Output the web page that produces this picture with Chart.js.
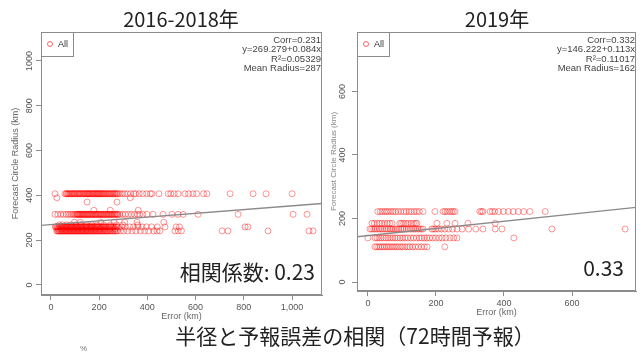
<!DOCTYPE html>
<html>
<head>
<meta charset="utf-8">
<script src="https://cdn.jsdelivr.net/npm/chart.js@4.4.1/dist/chart.umd.min.js"></script>
<style>
  body { margin: 0; width: 643px; height: 356px; overflow: hidden; position: relative; background: #fff;
         font-family: "Noto Sans CJK JP", sans-serif; }
  canvas { position: absolute; top: 0; }
  #c2016 { left: 0; }
  #c2019 { left: 320px; }
  .ttl { position: absolute; top: 6px; font-size: 20px; line-height: 26px; color: #222;
         transform: translateX(-50%); white-space: nowrap; }
  .cap { position: absolute; top: 322px; left: 355px; font-size: 21px; line-height: 26px; color: #222;
         transform: translateX(-50%); white-space: nowrap; }
  .stray { position: absolute; left: 80px; top: 344px; font: 8px "Liberation Sans"; color: #777; }
</style>
</head>
<body>
<canvas id="c2016" width="330" height="356"></canvas>
<canvas id="c2019" width="323" height="356"></canvas>
<div class="ttl" style="left:181px">2016-2018年</div>
<div class="ttl" style="left:497px">2019年</div>
<div class="cap">半径と予報誤差の相関（72時間予報）</div>
<div class="stray">%</div>
<script>
// ---- 2016-2018 panel (one x list per forecast-radius row) ----
const radius2016 = [407, 407, 389, 370, 333, 315, 315, 280, 268, 259, 259, 250, 241, 241];
const err2016_407 = [17, 58, 63, 70, 76, 84, 90, 97, 104, 109, 116, 122, 129, 137, 143, 150, 156, 161, 168, 175, 181, 188, 193, 199, 205, 212, 219, 226, 233, 241, 248, 256, 263, 271, 279, 288, 297, 306, 318, 331, 344, 352, 366, 381, 397, 412, 419, 448, 486, 497, 511, 527, 556, 571, 589, 604, 633, 647, 743, 838, 892, 1000];
const err2016_407b = [66, 73, 80, 87, 94, 100, 112, 119, 126, 133, 140, 147, 153, 159, 165, 172, 178, 185, 191, 196, 202, 209, 216, 222, 229, 237, 244, 252, 260, 267, 275];
const err2016_389 = [25, 329];
const err2016_370 = [150, 274];
const err2016_333 = [178, 246, 362];
const err2016_315 = [17, 29, 41, 52, 63, 71, 79, 86, 93, 98, 104, 110, 115, 121, 127, 133, 139, 146, 151, 157, 163, 170, 176, 183, 189, 196, 202, 208, 215, 221, 228, 234, 241, 248, 254, 262, 269, 277, 286, 297, 308, 321, 333, 347, 358, 368, 382, 398, 423, 465, 502, 527, 548, 610, 776, 1004, 1062];
const err2016_315b = [108, 113, 118, 124, 130, 136, 142, 148, 154, 160, 167, 173, 180, 186, 192, 199, 205, 211, 218, 224, 231, 238, 244, 251, 258, 265, 272, 277];
const err2016_280 = [98, 122, 207, 262, 306, 357, 468];
const err2016_268 = [35, 48, 66, 84, 103, 125, 147, 170, 192, 219, 247, 272, 298, 360];
const err2016_259 = [18, 27, 34, 40, 46, 52, 57, 63, 68, 74, 79, 85, 90, 96, 101, 107, 112, 118, 124, 129, 135, 141, 146, 152, 158, 163, 169, 175, 181, 187, 193, 199, 206, 213, 220, 227, 235, 243, 251, 260, 270, 281, 294, 309, 327, 342, 361, 378, 396, 417, 441, 473, 519, 533, 805, 817];
const err2016_259b = [21, 24, 30, 37, 43, 49, 54, 60, 65, 71, 76, 82, 87, 93, 99, 104, 110, 115, 121, 126, 132, 138, 144, 149, 155, 161, 166, 172, 178, 184, 190, 196, 203, 210, 217, 224, 231, 239, 247, 256, 265, 275];
const err2016_250 = [30, 45, 62, 78, 95, 112, 130, 148, 166, 184, 203, 222, 244, 266];
const err2016_241 = [24, 31, 37, 43, 49, 55, 60, 66, 71, 77, 82, 88, 93, 99, 104, 110, 115, 121, 127, 132, 138, 144, 149, 155, 161, 167, 173, 179, 185, 191, 198, 204, 211, 218, 225, 232, 240, 249, 258, 267, 277, 289, 302, 318, 336, 352, 371, 389, 405, 426, 440, 452, 514, 528, 541, 710, 734, 900, 1070, 1087];
const err2016_241b = [27, 34, 40, 46, 52, 58, 63, 69, 74, 80, 85, 91, 96, 102, 107, 113, 118, 124, 130, 135, 141, 147, 152, 158, 164, 170, 176, 182, 188, 195, 201, 208, 215, 222, 229, 236, 245, 254, 263, 272];
const errRows2016 = [err2016_407, err2016_407b, err2016_389, err2016_370, err2016_333, err2016_315, err2016_315b,
  err2016_280, err2016_268, err2016_259, err2016_259b, err2016_250, err2016_241, err2016_241b];
const fit2016 = [269.279, 0.084];
const stats2016 = ['Corr=0.231', 'y=269.279+0.084x', 'R²=0.05329', 'Mean Radius=287'];
const xTicks2016 = [0, 200, 400, 600, 800, 1000];
const yTicks2016 = [0, 200, 400, 600, 800, 1000];

// ---- 2019 panel ----
const radius2019 = [222, 185, 167, 139, 111];
const err2019_222 = [29, 36, 42, 49, 55, 61, 68, 74, 81, 89, 97, 106, 113, 121, 128, 136, 143, 151, 162, 197, 221, 227, 233, 240, 246, 251, 256, 329, 334, 338, 359, 366, 373, 384, 398, 413, 427, 442, 458, 476, 521];
const err2019_185 = [12, 19, 27, 34, 41, 49, 57, 64, 71, 94, 99, 105, 112, 119, 127, 134, 140, 144, 203, 232, 256, 294, 374];
const err2019_167 = [6, 11, 17, 22, 27, 33, 38, 43, 49, 54, 59, 65, 70, 75, 81, 86, 91, 97, 102, 107, 113, 118, 124, 129, 135, 140, 146, 151, 157, 162, 188, 193, 199, 207, 216, 226, 237, 249, 262, 277, 296, 317, 338, 374, 394, 541, 756];
const err2019_139 = [0, 21, 27, 33, 39, 46, 53, 59, 66, 73, 80, 87, 95, 102, 109, 117, 126, 134, 143, 151, 158, 166, 173, 181, 190, 199, 209, 218, 229, 241, 252, 262, 429];
const err2019_111 = [21, 26, 32, 37, 43, 48, 54, 59, 65, 71, 77, 83, 89, 96, 102, 109, 116, 123, 131, 139, 148, 157, 166, 174, 226];
const errRows2019 = [err2019_222, err2019_185, err2019_167, err2019_139, err2019_111];
const fit2019 = [146.222, 0.113];
const stats2019 = ['Corr=0.332', 'y=146.222+0.113x', 'R²=0.11017', 'Mean Radius=162'];
const xTicks2019 = [0, 200, 400, 600];
const yTicks2019 = [0, 200, 400, 600];

const POINT_RED = 'rgba(255, 0, 0, 0.42)';
const AXIS_GRAY = '#8c8c8c';
const SMALL_FONT = '"Liberation Sans", Arial, sans-serif';

// R-style box, rotated y labels, legend, stats and correlation text
const rDecor = {
  id: 'rDecor',
  afterDraw(chart, args, o) {
    const { ctx, chartArea: a, scales: { y } } = chart;
    ctx.save();
    ctx.strokeStyle = AXIS_GRAY;
    ctx.lineWidth = 1;
    ctx.strokeRect(Math.round(a.left) + 0.5, Math.round(a.top) + 0.5, Math.round(a.width) - 1, Math.round(a.height) - 1);

    ctx.fillStyle = '#555';
    ctx.font = '9px ' + SMALL_FONT;
    ctx.textAlign = 'center';
    ctx.textBaseline = 'middle';
    y.ticks.forEach(t => {
      ctx.save();
      ctx.translate(a.left - o.yLabelOff, y.getPixelForValue(t.value));
      ctx.rotate(-Math.PI / 2);
      ctx.fillText(String(t.value), 0, 0);
      ctx.restore();
    });

    ctx.fillStyle = '#666';
    ctx.fillText('Error (km)', (a.left + a.right) / 2, a.bottom + 22);
    ctx.save();
    ctx.translate(o.yTitleX, (a.top + a.bottom) / 2);
    ctx.rotate(-Math.PI / 2);
    ctx.font = o.yTitleSize + 'px ' + SMALL_FONT;
    ctx.fillStyle = o.yTitleColor;
    ctx.fillText('Forecast Circle Radius (km)', 0, 0);
    ctx.restore();

    // legend box
    ctx.strokeRect(Math.round(a.left) + 0.5, Math.round(a.top) + 0.5, 32, 24);
    ctx.beginPath();
    ctx.arc(a.left + 9, a.top + 12, 2.5, 0, Math.PI * 2);
    ctx.strokeStyle = 'rgba(255, 0, 0, 0.6)';
    ctx.stroke();
    ctx.fillStyle = '#333';
    ctx.textAlign = 'left';
    ctx.fillText('All', a.left + 17, a.top + 12.5);

    ctx.textAlign = 'right';
    ctx.font = '9.5px ' + SMALL_FONT;
    ctx.fillStyle = '#444';
    o.stats.forEach((s, i) => ctx.fillText(s, a.right - 1, a.top + 8 + i * 9.5));

    ctx.font = '21px "Noto Sans CJK JP", sans-serif';
    ctx.fillStyle = '#222';
    ctx.fillText(o.corr, a.right - o.corrInset, a.bottom - 23);
    ctx.restore();
  }
};

function makePanel(id, radii, rows, fit, xr, yr, xTicks, yTicks, dims, decor) {
  const pts = radii.flatMap((r, i) => rows[i].map(x => ({ x, y: r })));
  return new Chart(document.getElementById(id), {
    type: 'scatter',
    data: {
      datasets: [
        {
          data: [xr[0], xr[1]].map(x => ({ x, y: fit[0] + fit[1] * x })),
          showLine: true,
          borderColor: '#8a8a8a',
          borderWidth: 1.4,
          pointRadius: 0,
          order: 0
        },
        {
          data: pts,
          pointStyle: 'circle',
          pointRadius: 3,
          borderWidth: 1,
          borderColor: POINT_RED,
          backgroundColor: 'rgba(0,0,0,0)',
          order: 1
        }
      ]
    },
    options: {
      responsive: false,
      animation: false,
      layout: { padding: { top: dims.top, right: dims.right, left: 0, bottom: 0 } },
      plugins: { legend: { display: false }, tooltip: { enabled: false }, rDecor: decor },
      scales: {
        x: {
          type: 'linear', min: xr[0], max: xr[1],
          afterBuildTicks: s => { s.ticks = xTicks.map(v => ({ value: v })); },
          afterFit: s => { s.height = dims.xh; },
          ticks: { color: '#555', font: { family: SMALL_FONT, size: 9 }, padding: 2, maxRotation: 0 },
          grid: { drawOnChartArea: false, drawTicks: true, tickLength: 5, color: AXIS_GRAY },
          border: { color: AXIS_GRAY }
        },
        y: {
          type: 'linear', min: yr[0], max: yr[1],
          afterBuildTicks: s => { s.ticks = yTicks.map(v => ({ value: v })); },
          afterFit: s => { s.width = dims.yw; },
          ticks: { display: false },
          grid: { drawOnChartArea: false, drawTicks: true, tickLength: 5, color: AXIS_GRAY },
          border: { color: AXIS_GRAY }
        }
      }
    },
    plugins: [rDecor]
  });
}

makePanel('c2016', radius2016, errRows2016, fit2016, [-41, 1124], [-45, 1129], xTicks2016, yTicks2016,
  { top: 32, right: 8, xh: 61, yw: 41 },
  { stats: stats2016, corr: '相関係数: 0.23', corrInset: 7, yTitleX: 16, yLabelOff: 11, yTitleSize: 9, yTitleColor: '#666' });

makePanel('c2019', radius2019, errRows2019, fit2019, [-32, 788], [-28, 787], xTicks2019, yTicks2019,
  { top: 32, right: 7, xh: 65, yw: 37 },
  { stats: stats2019, corr: '0.33', corrInset: 12, yTitleX: 14, yLabelOff: 14, yTitleSize: 8, yTitleColor: '#888' });
</script>
</body>
</html>
